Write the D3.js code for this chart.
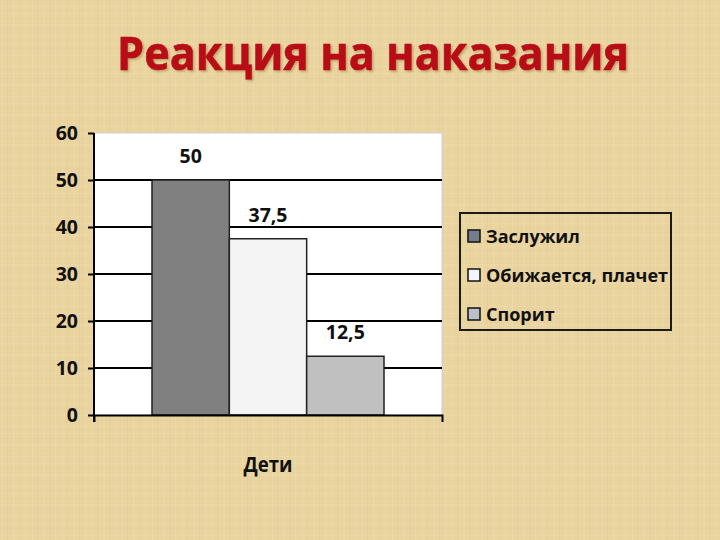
<!DOCTYPE html>
<html>
<head>
    <meta charset="utf-8">
    <title>Реакция на наказания</title>
    <style>
        html, body { margin: 0; padding: 0; background: #e8d3a0; }
        svg { display: block; }
    </style>
</head>
<body>
    <svg id="chart" width="720" height="540"></svg>
</body>
<script src="https://cdn.jsdelivr.net/npm/d3@7"></script>
<script>

    // data
    const title = "Реакция на наказания";
    const categories = ["Дети"];
    const series = ["Заслужил", "Обижается, плачет", "Спорит"];
    const values = [50, 37.5, 12.5];
    const yTicks = [0, 10, 20, 30, 40, 50, 60];

    const barColors = ["#808080", "#f4f4f4", "#c0c0c0"];
    const swatchColors = ["#737d8c", "#f2f6fb", "#b9c0ca"];

    const ru = d3.formatLocale({ decimal: ",", thousands: " ", grouping: [3], currency: ["", " ₽"] });
    const fmt = ru.format("~g");

    const margin = { top: 133, left: 94 };
    const width = 348, height = 282;
    const font = "'Open Sans', 'Noto Sans', sans-serif";

    const svg = d3.select("#chart");

    // background texture (woven paper look)
    const defs = svg.append("defs");
    const pat = defs.append("pattern")
        .attr("id", "weave")
        .attr("patternUnits", "userSpaceOnUse")
        .attr("width", 30).attr("height", 30);
    pat.append("rect").attr("width", 30).attr("height", 30).attr("fill", "#e9d4a0");
    [[2, "#f1e0b4", 1], [7, "#dfc891", 1], [13, "#eedcac", 2], [19, "#e2cb95", 1], [25, "#f0deb0", 1]].forEach(([p, c, w]) => {
        pat.append("rect").attr("x", p).attr("y", 0).attr("width", w).attr("height", 30).attr("fill", c).attr("opacity", 0.45);
        pat.append("rect").attr("x", 0).attr("y", (p + 11) % 30).attr("width", 30).attr("height", w).attr("fill", c).attr("opacity", 0.35);
    });
    svg.append("rect").attr("width", 720).attr("height", 540).attr("fill", "url(#weave)");

    const shadow = defs.append("filter").attr("id", "tshadow")
        .attr("x", "-5%").attr("y", "-20%").attr("width", "110%").attr("height", "140%");
    shadow.append("feDropShadow")
        .attr("dx", 1.5).attr("dy", 1.5).attr("stdDeviation", 1)
        .attr("flood-color", "#6b3a10").attr("flood-opacity", 0.35);

    // title
    svg.append("text")
        .attr("x", 373).attr("y", 70)
        .attr("text-anchor", "middle")
        .attr("font-family", font)
        .attr("font-weight", "bold")
        .attr("font-size", 46)
        .attr("fill", "#b80f16")
        .attr("stroke", "#b80f16").attr("stroke-width", 0.6)
        .attr("filter", "url(#tshadow)")
        .attr("textLength", 512)
        .attr("lengthAdjust", "spacingAndGlyphs")
        .text(title);

    const g = svg.append("g").attr("transform", `translate(${margin.left},${margin.top})`);

    const y = d3.scaleLinear().domain([0, 60]).range([height, 0]);
    const x0 = d3.scaleBand().domain(categories).range([0, width]).paddingInner(0).paddingOuter(0.25);
    const x1 = d3.scaleBand().domain(series).range([0, x0.bandwidth()]);

    // plot area
    g.append("rect")
        .attr("width", width).attr("height", height)
        .attr("fill", "#fff")
        .attr("stroke", "#cfcfcf").attr("stroke-width", 1);

    // gridlines
    g.append("g")
        .selectAll("line")
        .data(yTicks.filter(d => d > 0 && d < 60))
        .join("line")
        .attr("x1", 0).attr("x2", width)
        .attr("y1", d => y(d)).attr("y2", d => y(d))
        .attr("stroke", "#000").attr("stroke-width", 2);

    // bars
    const data = series.map((s, i) => ({ s, v: values[i], c: barColors[i] }));
    const catG = g.append("g").attr("transform", `translate(${x0(categories[0])},0)`);
    catG.selectAll("rect")
        .data(data)
        .join("rect")
        .attr("x", d => x1(d.s))
        .attr("y", d => y(d.v))
        .attr("width", x1.bandwidth())
        .attr("height", d => y(0) - y(d.v))
        .attr("fill", d => d.c)
        .attr("stroke", "#222").attr("stroke-width", 1.5);

    // data labels
    catG.selectAll("text.lbl")
        .data(data)
        .join("text")
        .attr("class", "lbl")
        .attr("x", d => x1(d.s) + x1.bandwidth() / 2)
        .attr("y", d => y(d.v) - 17)
        .attr("text-anchor", "middle")
        .attr("font-family", font)
        .attr("font-weight", "bold")
        .attr("font-size", 19.5)
        .attr("fill", "#111")
        .text(d => fmt(d.v));

    // y axis
    const gy = g.append("g")
        .call(d3.axisLeft(y).tickValues(yTicks).tickSize(6).tickPadding(10).tickFormat(d3.format("d")));
    gy.select(".domain").attr("stroke", "#000").attr("stroke-width", 2).attr("d", `M0,0V${height + 7}`);
    gy.selectAll(".tick line").attr("stroke", "#000").attr("stroke-width", 2);
    gy.selectAll(".tick text")
        .attr("font-family", font)
        .attr("font-weight", "bold")
        .attr("font-size", 19.5)
        .attr("fill", "#111");

    // x axis
    const gx = g.append("g")
        .attr("transform", `translate(0,${height})`)
        .call(d3.axisBottom(x0).tickSizeInner(0).tickSizeOuter(7).tickFormat(""));
    gx.select(".domain").attr("stroke", "#000").attr("stroke-width", 2);

    g.append("text")
        .attr("x", width / 2).attr("y", height + 57)
        .attr("text-anchor", "middle")
        .attr("font-family", font)
        .attr("font-weight", "bold")
        .attr("font-size", 21)
        .attr("fill", "#111")
        .attr("textLength", 49)
        .attr("lengthAdjust", "spacingAndGlyphs")
        .text(categories[0]);

    // legend
    const lg = svg.append("g").attr("transform", "translate(460,213)");
    lg.append("rect")
        .attr("width", 211).attr("height", 117)
        .attr("fill", "none")
        .attr("stroke", "#1a1a1a").attr("stroke-width", 2);
    const items = lg.selectAll("g.item")
        .data(series)
        .join("g")
        .attr("class", "item")
        .attr("transform", (d, i) => `translate(8,${17 + i * 39})`);
    items.append("rect")
        .attr("width", 12).attr("height", 12)
        .attr("fill", (d, i) => swatchColors[i])
        .attr("stroke", "#111").attr("stroke-width", 1.5);
    items.append("text")
        .attr("x", 18).attr("y", 12.5)
        .attr("font-family", font)
        .attr("font-weight", "bold")
        .attr("font-size", 18)
        .attr("fill", "#111")
        .text(d => d);

</script>
</html>
